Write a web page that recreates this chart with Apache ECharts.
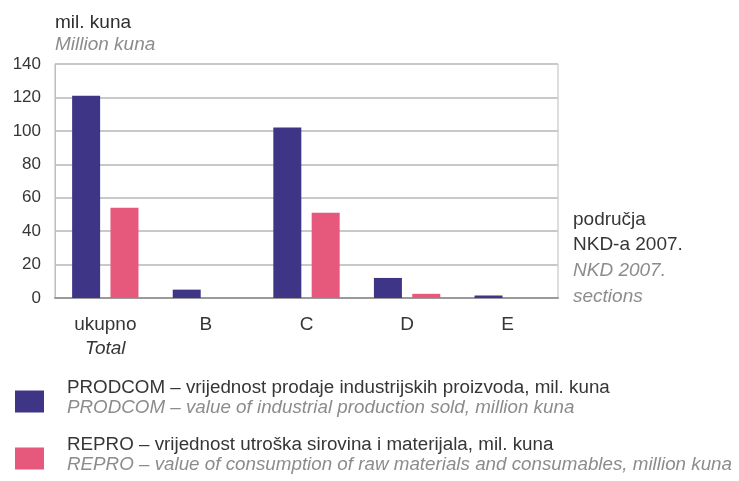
<!DOCTYPE html>
<html>
<head>
<meta charset="utf-8">
<script src="https://cdn.jsdelivr.net/npm/echarts@6/dist/echarts.min.js"></script>
<style>
  html, body { margin: 0; padding: 0; background: #fff; }
  #chart { width: 739px; height: 481px; }
</style>
</head>
<body>
<div id="chart"></div>
<script>
// Sections of NKD 2007 (first one is the total)
const categories = ['ukupno', 'B', 'C', 'D', 'E'];
const categoryNotes = { ukupno: 'Total' };

// Million kuna
const prodcomValues = [121, 5, 102, 12, 1.5];
const reproValues = [54, 0, 51, 2.5, 0];

const yTicks = { min: 0, max: 140, step: 20 };

const seriesNames = ['PRODCOM', 'REPRO'];
const legendLines = {
  PRODCOM: ['PRODCOM – vrijednost prodaje industrijskih proizvoda, mil. kuna',
            'PRODCOM – value of industrial production sold, million kuna'],
  REPRO: ['REPRO – vrijednost utroška sirovina i materijala, mil. kuna',
          'REPRO – value of consumption of raw materials and consumables, million kuna']
};

const FONT = '"Liberation Sans Narrow", "Liberation Sans", Arial, sans-serif';
const DARK = '#363636';
const LIGHT = '#8c8c8c';

// One legend block per series: two text lines, swatch sitting a little below the first line
function legendFor(name, top) {
  return {
    orient: 'vertical',
    left: 10,
    top: top,
    itemWidth: 29,
    itemHeight: 22,
    icon: 'rect',
    data: [name],
    formatter: n => '{a|' + legendLines[n][0] + '}\n{b|' + legendLines[n][1] + '}\n{c| }',
    textStyle: {
      padding: [0, 0, 0, 18],
      rich: {
        a: { fontFamily: FONT, fontSize: 18.8, color: DARK, lineHeight: 20 },
        b: { fontFamily: FONT, fontSize: 18.8, fontStyle: 'italic', color: LIGHT, lineHeight: 20 },
        c: { fontSize: 6, lineHeight: 8 }
      }
    }
  };
}

const chart = echarts.init(document.getElementById('chart'), null, { renderer: 'canvas' });

chart.setOption({
  animation: false,
  backgroundColor: '#ffffff',
  textStyle: { fontFamily: FONT },
  title: {
    text: 'mil. kuna',
    subtext: 'Million kuna',
    left: 50,
    top: 8,
    itemGap: 3,
    textStyle: { fontFamily: FONT, fontSize: 19, fontWeight: 'normal', color: '#2e2e2e' },
    subtextStyle: { fontFamily: FONT, fontSize: 19, fontStyle: 'italic', color: LIGHT }
  },
  legend: [legendFor(seriesNames[0], 373), legendFor(seriesNames[1], 430)],
  grid: {
    left: 55,
    right: 181,
    top: 64,
    bottom: 183,
    show: true,
    borderColor: '#bdbdbd',
    borderWidth: 1
  },
  xAxis: {
    type: 'category',
    data: categories,
    axisLine: { lineStyle: { color: '#9a9a9a', width: 2 } },
    axisTick: { show: false },
    axisLabel: {
      margin: 15,
      formatter: v => categoryNotes[v] ? '{a|' + v + '}\n{b|' + categoryNotes[v] + '}' : '{a|' + v + '}',
      rich: {
        a: { fontFamily: FONT, fontSize: 19, color: DARK, lineHeight: 24 },
        b: { fontFamily: FONT, fontSize: 19, fontStyle: 'italic', color: DARK, lineHeight: 24 }
      }
    },
    name: '{a|područja}\n{a|NKD-a 2007.}\n{b|NKD 2007.}\n{b|sections}',
    nameLocation: 'end',
    nameGap: 15,
    nameTextStyle: {
      align: 'left',
      verticalAlign: 'bottom',
      padding: [0, 0, -11, 0],
      rich: {
        a: { fontFamily: FONT, fontSize: 19, color: DARK, lineHeight: 25.5 },
        b: { fontFamily: FONT, fontSize: 19, fontStyle: 'italic', color: LIGHT, lineHeight: 25.5 }
      }
    }
  },
  yAxis: {
    type: 'value',
    min: yTicks.min,
    max: yTicks.max,
    interval: yTicks.step,
    axisLine: { show: true, lineStyle: { color: '#bdbdbd', width: 1 } },
    axisTick: { show: false },
    axisLabel: { margin: 14, fontFamily: FONT, fontSize: 17, color: DARK },
    splitLine: { lineStyle: { color: '#c9c9c9', width: 2 } }
  },
  series: [
    {
      name: seriesNames[0],
      type: 'bar',
      data: prodcomValues,
      barWidth: 28,
      barGap: '37%',
      itemStyle: { color: '#3e3587' }
    },
    {
      name: seriesNames[1],
      type: 'bar',
      data: reproValues,
      barWidth: 28,
      itemStyle: { color: '#e6587c' }
    }
  ]
});
</script>
</body>
</html>
